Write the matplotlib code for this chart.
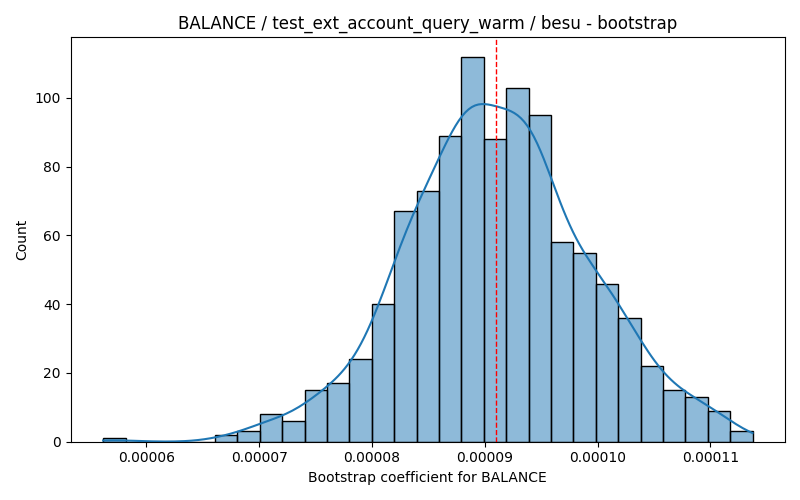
import numpy as np
import matplotlib
matplotlib.use("Agg")
import matplotlib.pyplot as plt
import seaborn as sns

# histogram (1000 bootstrap samples, 29 bins)
bin_lo = 5.618e-05
bin_hi = 1.1373e-04
counts = [1, 0, 0, 0, 0, 2, 3, 8, 6, 15, 17, 24, 40, 67, 73,
          89, 112, 88, 103, 95, 58, 55, 46, 36, 22, 15, 13, 9, 3]
point_estimate = 9.097e-05

feature = "BALANCE"
test_name = "test_ext_account_query_warm"
client = "besu"

edges = np.linspace(bin_lo, bin_hi, len(counts) + 1)
centers = (edges[:-1] + edges[1:]) / 2
# rebuild the sample from the bin counts
samples = np.repeat(centers, counts)

fig, ax = plt.subplots(figsize=(8, 5))
sns.histplot(samples, bins=edges, kde=True, ax=ax,
             kde_kws={"cut": 1, "clip": (bin_lo, bin_hi)})
ax.axvline(point_estimate, color="red", linestyle="--", linewidth=1)

ax.set_title(f"{feature} / {test_name} / {client} - bootstrap")
ax.set_xlabel(f"Bootstrap coefficient for {feature}")
ax.set_ylabel("Count")
plt.tight_layout()
plt.savefig("out.png", dpi=100)
plt.close()
